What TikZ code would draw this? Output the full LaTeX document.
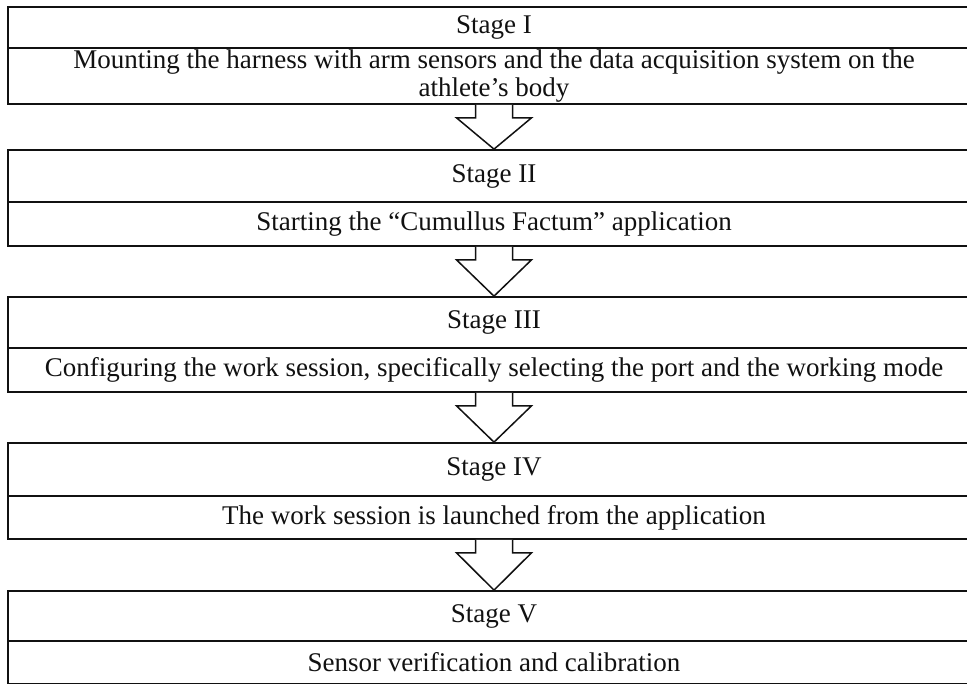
\documentclass[tikz,border=0pt]{standalone}
\usepackage{fontspec}
\setmainfont{Liberation Serif}
\usetikzlibrary{calc}
\definecolor{ink}{HTML}{111111}
\tikzset{
  stagehead/.style={draw=ink,line width=1.7pt,minimum width=972pt,inner sep=0pt,
    font=\fontsize{27}{28}\selectfont,text=ink,align=center},
  stagebody/.style={draw=ink,line width=1.7pt,minimum width=972pt,inner sep=0pt,
    font=\fontsize{27}{28}\selectfont,text=ink,align=center},
  flowarrow/.style={draw=ink,line width=1.5pt,fill=white,line join=miter},
}

\begin{document}
\begin{tikzpicture}[x=1pt,y=1pt]
\useasboundingbox (0,0) rectangle (967,684);

% ================= STAGES =================
\node[stagehead,minimum height=41pt] (h1) at (494,656.5) {Stage I};
\node[stagebody,minimum height=56pt] (b1) at (494,608) {Mounting the harness with arm sensors and the data acquisition system on the\\athlete’s body};

\node[stagehead,minimum height=52pt] (h2) at (494,508) {Stage II};
\node[stagebody,minimum height=44pt] (b2) at (494,460) {Starting the “Cumullus Factum” application};

\node[stagehead,minimum height=51pt] (h3) at (494,361.5) {Stage III};
\node[stagebody,minimum height=44pt] (b3) at (494,314) {Configuring the work session, specifically selecting the port and the working mode};

\node[stagehead,minimum height=53pt] (h4) at (494,214.5) {Stage IV};
\node[stagebody,minimum height=43pt] (b4) at (494,166.5) {The work session is launched from the application};

\node[stagehead,minimum height=50pt] (h5) at (494,68) {Stage V};
\node[stagebody,minimum height=43pt] (b5) at (494,21.5) {Sensor verification and calibration};

% ================= BLOCK ARROWS =================
\foreach \from/\to in {b1/h2,b2/h3,b3/h4,b4/h5}{
  \draw[flowarrow] ($(\from.south)+(-18.5,0)$) -- ($(\from.south)+(-18.5,-13)$)
    -- ($(\from.south)+(-37.5,-13)$) -- (\to.north)
    -- ($(\from.south)+(37.5,-13)$) -- ($(\from.south)+(18.5,-13)$)
    -- ($(\from.south)+(18.5,0)$);
}

\end{tikzpicture}
\end{document}
